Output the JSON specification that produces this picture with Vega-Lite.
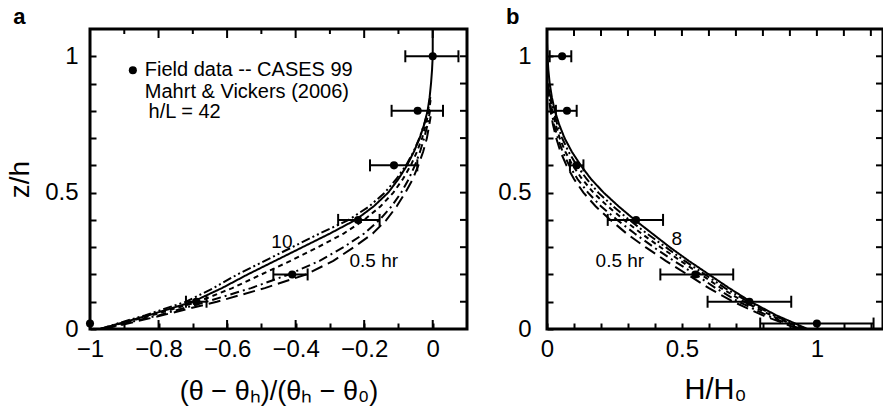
{
  "$schema": "https://vega.github.io/schema/vega-lite/v6.json",
  "background": "white",
  "padding": {"left": 5, "top": 4, "right": 0, "bottom": 0},
  "spacing": 80,
  "bounds": "flush",
  "datasets": {
    "curvesA": [
      {"s":"s1","z":0,"v":-0.96},{"s":"s1","z":0.02,"v":-0.89},{"s":"s1","z":0.05,"v":-0.79},{"s":"s1","z":0.1,"v":-0.63},{"s":"s1","z":0.15,"v":-0.49},{"s":"s1","z":0.2,"v":-0.37},{"s":"s1","z":0.25,"v":-0.29},{"s":"s1","z":0.3,"v":-0.23},{"s":"s1","z":0.35,"v":-0.175},{"s":"s1","z":0.4,"v":-0.135},{"s":"s1","z":0.45,"v":-0.105},{"s":"s1","z":0.5,"v":-0.08},{"s":"s1","z":0.55,"v":-0.058},{"s":"s1","z":0.6,"v":-0.042},{"s":"s1","z":0.65,"v":-0.028},{"s":"s1","z":0.7,"v":-0.017},{"s":"s1","z":0.75,"v":-0.01},{"s":"s1","z":0.78,"v":-0.006},
      {"s":"s2","z":0,"v":-0.965},{"s":"s2","z":0.02,"v":-0.9},{"s":"s2","z":0.05,"v":-0.8},{"s":"s2","z":0.1,"v":-0.66},{"s":"s2","z":0.15,"v":-0.53},{"s":"s2","z":0.2,"v":-0.42},{"s":"s2","z":0.25,"v":-0.33},{"s":"s2","z":0.3,"v":-0.26},{"s":"s2","z":0.35,"v":-0.2},{"s":"s2","z":0.4,"v":-0.155},{"s":"s2","z":0.45,"v":-0.12},{"s":"s2","z":0.5,"v":-0.092},{"s":"s2","z":0.55,"v":-0.07},{"s":"s2","z":0.6,"v":-0.052},{"s":"s2","z":0.65,"v":-0.037},{"s":"s2","z":0.7,"v":-0.025},{"s":"s2","z":0.75,"v":-0.015},{"s":"s2","z":0.8,"v":-0.008},
      {"s":"s3","z":0,"v":-0.97},{"s":"s3","z":0.02,"v":-0.91},{"s":"s3","z":0.05,"v":-0.82},{"s":"s3","z":0.1,"v":-0.685},{"s":"s3","z":0.15,"v":-0.585},{"s":"s3","z":0.2,"v":-0.5},{"s":"s3","z":0.25,"v":-0.415},{"s":"s3","z":0.3,"v":-0.335},{"s":"s3","z":0.35,"v":-0.26},{"s":"s3","z":0.4,"v":-0.2},{"s":"s3","z":0.45,"v":-0.152},{"s":"s3","z":0.5,"v":-0.115},{"s":"s3","z":0.55,"v":-0.087},{"s":"s3","z":0.6,"v":-0.064},{"s":"s3","z":0.65,"v":-0.046},{"s":"s3","z":0.7,"v":-0.031},{"s":"s3","z":0.75,"v":-0.02},{"s":"s3","z":0.8,"v":-0.011},{"s":"s3","z":0.85,"v":-0.005},
      {"s":"s4","z":0,"v":-0.97},{"s":"s4","z":0.02,"v":-0.915},{"s":"s4","z":0.05,"v":-0.83},{"s":"s4","z":0.1,"v":-0.7},{"s":"s4","z":0.15,"v":-0.615},{"s":"s4","z":0.2,"v":-0.54},{"s":"s4","z":0.25,"v":-0.46},{"s":"s4","z":0.3,"v":-0.38},{"s":"s4","z":0.35,"v":-0.3},{"s":"s4","z":0.4,"v":-0.225},{"s":"s4","z":0.45,"v":-0.172},{"s":"s4","z":0.5,"v":-0.13},{"s":"s4","z":0.55,"v":-0.1},{"s":"s4","z":0.6,"v":-0.075},{"s":"s4","z":0.65,"v":-0.055},{"s":"s4","z":0.7,"v":-0.038},{"s":"s4","z":0.75,"v":-0.025},{"s":"s4","z":0.8,"v":-0.015},{"s":"s4","z":0.85,"v":-0.009},{"s":"s4","z":0.9,"v":-0.005},{"s":"s4","z":0.95,"v":-0.002},{"s":"s4","z":1.0,"v":0},{"s":"s4","z":1.1,"v":0},
      {"s":"s5","z":0,"v":-0.97},{"s":"s5","z":0.02,"v":-0.92},{"s":"s5","z":0.05,"v":-0.84},{"s":"s5","z":0.1,"v":-0.72},{"s":"s5","z":0.15,"v":-0.64},{"s":"s5","z":0.2,"v":-0.57},{"s":"s5","z":0.25,"v":-0.49},{"s":"s5","z":0.3,"v":-0.41},{"s":"s5","z":0.35,"v":-0.33},{"s":"s5","z":0.4,"v":-0.245},{"s":"s5","z":0.45,"v":-0.185},{"s":"s5","z":0.5,"v":-0.14},{"s":"s5","z":0.55,"v":-0.106},{"s":"s5","z":0.6,"v":-0.078},{"s":"s5","z":0.65,"v":-0.056},{"s":"s5","z":0.7,"v":-0.039},{"s":"s5","z":0.75,"v":-0.025},{"s":"s5","z":0.8,"v":-0.014},{"s":"s5","z":0.85,"v":-0.007}
    ],
    "curvesB": [
      {"s":"s1","z":0,"v":0.93},{"s":"s1","z":0.02,"v":0.88},{"s":"s1","z":0.05,"v":0.8},{"s":"s1","z":0.1,"v":0.69},{"s":"s1","z":0.15,"v":0.6},{"s":"s1","z":0.2,"v":0.52},{"s":"s1","z":0.25,"v":0.44},{"s":"s1","z":0.3,"v":0.365},{"s":"s1","z":0.35,"v":0.295},{"s":"s1","z":0.4,"v":0.235},{"s":"s1","z":0.45,"v":0.18},{"s":"s1","z":0.5,"v":0.135},{"s":"s1","z":0.55,"v":0.1},{"s":"s1","z":0.6,"v":0.072},{"s":"s1","z":0.65,"v":0.05},{"s":"s1","z":0.7,"v":0.034},{"s":"s1","z":0.75,"v":0.022},{"s":"s1","z":0.8,"v":0.013},{"s":"s1","z":0.85,"v":0.007},{"s":"s1","z":0.88,"v":0.004},
      {"s":"s2","z":0,"v":0.94},{"s":"s2","z":0.02,"v":0.89},{"s":"s2","z":0.05,"v":0.815},{"s":"s2","z":0.1,"v":0.71},{"s":"s2","z":0.15,"v":0.625},{"s":"s2","z":0.2,"v":0.55},{"s":"s2","z":0.25,"v":0.47},{"s":"s2","z":0.3,"v":0.395},{"s":"s2","z":0.35,"v":0.325},{"s":"s2","z":0.4,"v":0.26},{"s":"s2","z":0.45,"v":0.2},{"s":"s2","z":0.5,"v":0.152},{"s":"s2","z":0.55,"v":0.113},{"s":"s2","z":0.6,"v":0.082},{"s":"s2","z":0.65,"v":0.058},{"s":"s2","z":0.7,"v":0.04},{"s":"s2","z":0.75,"v":0.026},{"s":"s2","z":0.8,"v":0.016},{"s":"s2","z":0.85,"v":0.009},{"s":"s2","z":0.9,"v":0.004},
      {"s":"s3","z":0,"v":0.95},{"s":"s3","z":0.02,"v":0.9},{"s":"s3","z":0.05,"v":0.83},{"s":"s3","z":0.1,"v":0.73},{"s":"s3","z":0.15,"v":0.645},{"s":"s3","z":0.2,"v":0.57},{"s":"s3","z":0.25,"v":0.495},{"s":"s3","z":0.3,"v":0.42},{"s":"s3","z":0.35,"v":0.35},{"s":"s3","z":0.4,"v":0.285},{"s":"s3","z":0.45,"v":0.225},{"s":"s3","z":0.5,"v":0.172},{"s":"s3","z":0.55,"v":0.13},{"s":"s3","z":0.6,"v":0.095},{"s":"s3","z":0.65,"v":0.068},{"s":"s3","z":0.7,"v":0.047},{"s":"s3","z":0.75,"v":0.032},{"s":"s3","z":0.8,"v":0.02},{"s":"s3","z":0.85,"v":0.011},{"s":"s3","z":0.9,"v":0.005},
      {"s":"s4","z":0,"v":0.965},{"s":"s4","z":0.02,"v":0.92},{"s":"s4","z":0.05,"v":0.85},{"s":"s4","z":0.1,"v":0.755},{"s":"s4","z":0.15,"v":0.675},{"s":"s4","z":0.2,"v":0.6},{"s":"s4","z":0.25,"v":0.525},{"s":"s4","z":0.3,"v":0.455},{"s":"s4","z":0.35,"v":0.39},{"s":"s4","z":0.4,"v":0.325},{"s":"s4","z":0.45,"v":0.265},{"s":"s4","z":0.5,"v":0.21},{"s":"s4","z":0.55,"v":0.163},{"s":"s4","z":0.6,"v":0.125},{"s":"s4","z":0.65,"v":0.092},{"s":"s4","z":0.7,"v":0.065},{"s":"s4","z":0.75,"v":0.045},{"s":"s4","z":0.8,"v":0.029},{"s":"s4","z":0.85,"v":0.018},{"s":"s4","z":0.9,"v":0.01},{"s":"s4","z":0.95,"v":0.005},{"s":"s4","z":1.0,"v":0.002},{"s":"s4","z":1.05,"v":0},{"s":"s4","z":1.1,"v":0},
      {"s":"s5","z":0,"v":0.96},{"s":"s5","z":0.02,"v":0.91},{"s":"s5","z":0.05,"v":0.84},{"s":"s5","z":0.1,"v":0.745},{"s":"s5","z":0.15,"v":0.66},{"s":"s5","z":0.2,"v":0.585},{"s":"s5","z":0.25,"v":0.51},{"s":"s5","z":0.3,"v":0.44},{"s":"s5","z":0.35,"v":0.37},{"s":"s5","z":0.4,"v":0.305},{"s":"s5","z":0.45,"v":0.245},{"s":"s5","z":0.5,"v":0.19},{"s":"s5","z":0.55,"v":0.147},{"s":"s5","z":0.6,"v":0.11},{"s":"s5","z":0.65,"v":0.08},{"s":"s5","z":0.7,"v":0.056},{"s":"s5","z":0.75,"v":0.038},{"s":"s5","z":0.8,"v":0.024},{"s":"s5","z":0.85,"v":0.014},{"s":"s5","z":0.9,"v":0.007}
    ],
    "pointsA": [
      {"z":1.0,"v":0},{"z":0.8,"v":-0.044},{"z":0.6,"v":-0.113},{"z":0.4,"v":-0.218},{"z":0.2,"v":-0.41},{"z":0.1,"v":-0.69},{"z":0.02,"v":-1.0}
    ],
    "errA": [
      {"z":1.0,"lo":-0.08,"hi":0.075},{"z":0.8,"lo":-0.12,"hi":0.03},{"z":0.6,"lo":-0.183,"hi":-0.045},{"z":0.4,"lo":-0.276,"hi":-0.155},{"z":0.2,"lo":-0.465,"hi":-0.365},{"z":0.1,"lo":-0.72,"hi":-0.66}
    ],
    "pointsB": [
      {"z":1.0,"v":0.056},{"z":0.8,"v":0.074},{"z":0.6,"v":0.11},{"z":0.4,"v":0.33},{"z":0.2,"v":0.55},{"z":0.1,"v":0.75},{"z":0.02,"v":1.0}
    ],
    "errB": [
      {"z":1.0,"lo":0.01,"hi":0.09},{"z":0.8,"lo":0.033,"hi":0.11},{"z":0.6,"lo":0.085,"hi":0.135},{"z":0.4,"lo":0.225,"hi":0.43},{"z":0.2,"lo":0.42,"hi":0.69},{"z":0.1,"lo":0.595,"hi":0.905},{"z":0.02,"lo":0.79,"hi":1.21}
    ],
    "annA": [{"v":-0.44,"z":0.318,"t":"10"},{"v":-0.172,"z":0.248,"t":"0.5 hr"}],
    "annB": [{"v":0.481,"z":0.33,"t":"8"},{"v":0.27,"z":0.248,"t":"0.5 hr"}],
    "legendA": [{"v":-0.84,"z":0.949,"t":"Field data -- CASES 99"},{"v":-0.84,"z":0.869,"t":"Mahrt & Vickers (2006)"},{"v":-0.829,"z":0.796,"t":"h/L = 42"}],
    "legendDotA": [{"v":-0.875,"z":0.949}],
    "tagA": [{"v":-1.224,"z":1.118,"t":"a"}],
    "tagB": [{"v":-0.152,"z":1.118,"t":"b"}],
    "tickAxMajor": [{"v":-0.8},{"v":-0.6},{"v":-0.4},{"v":-0.2},{"v":0}],
    "tickAxMinor": [{"v":-0.9},{"v":-0.7},{"v":-0.5},{"v":-0.3},{"v":-0.1}],
    "tickBx": [{"v":0.1},{"v":0.2},{"v":0.3},{"v":0.4},{"v":0.5},{"v":0.6},{"v":0.7},{"v":0.8},{"v":0.9},{"v":1.0},{"v":1.1},{"v":1.2}],
    "tickY": [{"z":0.1},{"z":0.2},{"z":0.3},{"z":0.4},{"z":0.5},{"z":0.6},{"z":0.7},{"z":0.8},{"z":0.9},{"z":1.0}]
  },
  "hconcat": [
    {
      "width": 377,
      "height": 300,
      "resolve": {"axis": {"x": "independent", "y": "independent"}},
      "layer": [
        {
          "data": {"name": "curvesA"},
          "mark": {"type": "line", "color": "black", "strokeWidth": 2, "clip": true},
          "encoding": {
            "x": {"field": "v", "type": "quantitative", "scale": {"domain": [-1, 0.1], "nice": false, "zero": false},
                  "axis": {"orient": "bottom", "values": [-1, -0.9, -0.8, -0.7, -0.6, -0.5, -0.4, -0.3, -0.2, -0.1, 0], "labelExpr": "abs(round(datum.value*10)) % 2 == 0 ? format(datum.value, '.1~f') : ''", "labelFlush": false, "tickSize": -6, "domain": false, "labelPadding": 14, "title": "(θ − θₕ)/(θₕ − θ₀)", "titleFontSize": 27, "titlePadding": 17}},
            "y": {"field": "z", "type": "quantitative", "scale": {"domain": [0, 1.1], "nice": false, "zero": false},
                  "axis": {"orient": "left", "values": [0, 0.1, 0.2, 0.3, 0.4, 0.5, 0.6, 0.7, 0.8, 0.9, 1], "labelExpr": "round(datum.value*10) % 5 == 0 ? format(datum.value, '.1~f') : ''", "labelFlush": false, "tickSize": -6, "domain": false, "labelPadding": 18, "title": "z/h", "titleFontSize": 28, "titlePadding": 10}},
            "strokeDash": {"field": "s", "type": "nominal", "legend": null,
                  "scale": {"domain": ["s1", "s2", "s3", "s4", "s5"], "range": [[12, 6], [9, 4, 2, 4], [5, 4], [1, 0], [9, 3, 2, 3, 2, 3]]}},
            "order": {"field": "z", "type": "quantitative"}
          }
        },
        {
          "data": {"name": "tickAxMajor"},
          "mark": {"type": "tick", "orient": "vertical", "size": 18, "thickness": 2, "color": "black", "opacity": 1, "clip": true},
          "encoding": {
            "x": {"field": "v", "type": "quantitative", "scale": {"domain": [-1, 0.1], "nice": false, "zero": false}, "axis": null},
            "y": {"datum": 0, "type": "quantitative", "scale": {"domain": [0, 1.1], "nice": false, "zero": false}, "axis": null}
          }
        },
        {
          "data": {"name": "tickAxMajor"},
          "mark": {"type": "tick", "orient": "vertical", "size": 18, "thickness": 2, "color": "black", "opacity": 1, "clip": true},
          "encoding": {
            "x": {"field": "v", "type": "quantitative", "scale": {"domain": [-1, 0.1], "nice": false, "zero": false}, "axis": null},
            "y": {"datum": 1.1, "type": "quantitative", "scale": {"domain": [0, 1.1], "nice": false, "zero": false}, "axis": null}
          }
        },
        {
          "data": {"name": "tickAxMinor"},
          "mark": {"type": "tick", "orient": "vertical", "size": 10, "thickness": 2, "color": "black", "opacity": 1, "clip": true},
          "encoding": {
            "x": {"field": "v", "type": "quantitative", "scale": {"domain": [-1, 0.1], "nice": false, "zero": false}, "axis": null},
            "y": {"datum": 1.1, "type": "quantitative", "scale": {"domain": [0, 1.1], "nice": false, "zero": false}, "axis": null}
          }
        },
        {
          "data": {"name": "tickY"},
          "mark": {"type": "tick", "orient": "horizontal", "size": 14, "thickness": 2, "color": "black", "opacity": 1, "clip": true},
          "encoding": {
            "x": {"datum": 0.1, "type": "quantitative", "scale": {"domain": [-1, 0.1], "nice": false, "zero": false}, "axis": null},
            "y": {"field": "z", "type": "quantitative", "scale": {"domain": [0, 1.1], "nice": false, "zero": false}, "axis": null}
          }
        },
        {
          "data": {"name": "pointsA"},
          "mark": {"type": "circle", "size": 65, "color": "black", "opacity": 1},
          "encoding": {
            "x": {"field": "v", "type": "quantitative", "scale": {"domain": [-1, 0.1], "nice": false, "zero": false}, "axis": null},
            "y": {"field": "z", "type": "quantitative", "scale": {"domain": [0, 1.1], "nice": false, "zero": false}, "axis": null}
          }
        },
        {
          "data": {"name": "errA"},
          "mark": {"type": "rule", "color": "black", "strokeWidth": 2},
          "encoding": {
            "x": {"field": "lo", "type": "quantitative", "scale": {"domain": [-1, 0.1], "nice": false, "zero": false}, "axis": null},
            "x2": {"field": "hi"},
            "y": {"field": "z", "type": "quantitative", "scale": {"domain": [0, 1.1], "nice": false, "zero": false}, "axis": null}
          }
        },
        {
          "data": {"name": "errA"},
          "transform": [{"fold": ["lo", "hi"], "as": ["k", "v"]}],
          "mark": {"type": "tick", "orient": "vertical", "size": 12, "thickness": 2, "color": "black", "opacity": 1},
          "encoding": {
            "x": {"field": "v", "type": "quantitative", "scale": {"domain": [-1, 0.1], "nice": false, "zero": false}, "axis": null},
            "y": {"field": "z", "type": "quantitative", "scale": {"domain": [0, 1.1], "nice": false, "zero": false}, "axis": null}
          }
        },
        {
          "data": {"name": "annA"},
          "mark": {"type": "text", "align": "center", "baseline": "middle", "fontSize": 19, "font": "Liberation Sans", "color": "black"},
          "encoding": {
            "x": {"field": "v", "type": "quantitative", "scale": {"domain": [-1, 0.1], "nice": false, "zero": false}, "axis": null},
            "y": {"field": "z", "type": "quantitative", "scale": {"domain": [0, 1.1], "nice": false, "zero": false}, "axis": null},
            "text": {"field": "t"}
          }
        },
        {
          "data": {"name": "legendA"},
          "mark": {"type": "text", "align": "left", "baseline": "middle", "fontSize": 20, "font": "Liberation Sans", "color": "black"},
          "encoding": {
            "x": {"field": "v", "type": "quantitative", "scale": {"domain": [-1, 0.1], "nice": false, "zero": false}, "axis": null},
            "y": {"field": "z", "type": "quantitative", "scale": {"domain": [0, 1.1], "nice": false, "zero": false}, "axis": null},
            "text": {"field": "t"}
          }
        },
        {
          "data": {"name": "legendDotA"},
          "mark": {"type": "circle", "size": 65, "color": "black", "opacity": 1},
          "encoding": {
            "x": {"field": "v", "type": "quantitative", "scale": {"domain": [-1, 0.1], "nice": false, "zero": false}, "axis": null},
            "y": {"field": "z", "type": "quantitative", "scale": {"domain": [0, 1.1], "nice": false, "zero": false}, "axis": null}
          }
        },
        {
          "data": {"name": "tagA"},
          "mark": {"type": "text", "align": "left", "baseline": "alphabetic", "fontSize": 22, "fontWeight": "bold", "font": "Liberation Sans", "color": "black"},
          "encoding": {
            "x": {"field": "v", "type": "quantitative", "scale": {"domain": [-1, 0.1], "nice": false, "zero": false}, "axis": null},
            "y": {"field": "z", "type": "quantitative", "scale": {"domain": [0, 1.1], "nice": false, "zero": false}, "axis": null},
            "text": {"field": "t"}
          }
        }
      ]
    },
    {
      "width": 336,
      "height": 300,
      "resolve": {"axis": {"x": "independent", "y": "independent"}},
      "layer": [
        {
          "data": {"name": "curvesB"},
          "mark": {"type": "line", "color": "black", "strokeWidth": 2, "clip": true},
          "encoding": {
            "x": {"field": "v", "type": "quantitative", "scale": {"domain": [0, 1.245], "nice": false, "zero": false},
                  "axis": {"orient": "bottom", "values": [0, 0.1, 0.2, 0.3, 0.4, 0.5, 0.6, 0.7, 0.8, 0.9, 1, 1.1, 1.2], "labelExpr": "round(datum.value*10) % 5 == 0 ? format(datum.value, '.1~f') : ''", "labelFlush": false, "tickSize": -6, "domain": false, "labelPadding": 14, "title": "H/H₀", "titleFontSize": 29, "titlePadding": 14}},
            "y": {"field": "z", "type": "quantitative", "scale": {"domain": [0, 1.1], "nice": false, "zero": false},
                  "axis": {"orient": "left", "values": [0, 0.1, 0.2, 0.3, 0.4, 0.5, 0.6, 0.7, 0.8, 0.9, 1], "labelExpr": "round(datum.value*10) % 5 == 0 ? format(datum.value, '.1~f') : ''", "labelFlush": false, "tickSize": -6, "domain": false, "labelPadding": 22, "title": null}},
            "strokeDash": {"field": "s", "type": "nominal", "legend": null,
                  "scale": {"domain": ["s1", "s2", "s3", "s4", "s5"], "range": [[12, 6], [9, 4, 2, 4], [5, 4], [1, 0], [9, 3, 2, 3, 2, 3]]}},
            "order": {"field": "z", "type": "quantitative"}
          }
        },
        {
          "data": {"name": "tickBx"},
          "mark": {"type": "tick", "orient": "vertical", "size": 14, "thickness": 2, "color": "black", "opacity": 1, "clip": true},
          "encoding": {
            "x": {"field": "v", "type": "quantitative", "scale": {"domain": [0, 1.245], "nice": false, "zero": false}, "axis": null},
            "y": {"datum": 1.1, "type": "quantitative", "scale": {"domain": [0, 1.1], "nice": false, "zero": false}, "axis": null}
          }
        },
        {
          "data": {"name": "tickY"},
          "mark": {"type": "tick", "orient": "horizontal", "size": 14, "thickness": 2, "color": "black", "opacity": 1, "clip": true},
          "encoding": {
            "x": {"datum": 1.245, "type": "quantitative", "scale": {"domain": [0, 1.245], "nice": false, "zero": false}, "axis": null},
            "y": {"field": "z", "type": "quantitative", "scale": {"domain": [0, 1.1], "nice": false, "zero": false}, "axis": null}
          }
        },
        {
          "data": {"name": "pointsB"},
          "mark": {"type": "circle", "size": 65, "color": "black", "opacity": 1},
          "encoding": {
            "x": {"field": "v", "type": "quantitative", "scale": {"domain": [0, 1.245], "nice": false, "zero": false}, "axis": null},
            "y": {"field": "z", "type": "quantitative", "scale": {"domain": [0, 1.1], "nice": false, "zero": false}, "axis": null}
          }
        },
        {
          "data": {"name": "errB"},
          "mark": {"type": "rule", "color": "black", "strokeWidth": 2},
          "encoding": {
            "x": {"field": "lo", "type": "quantitative", "scale": {"domain": [0, 1.245], "nice": false, "zero": false}, "axis": null},
            "x2": {"field": "hi"},
            "y": {"field": "z", "type": "quantitative", "scale": {"domain": [0, 1.1], "nice": false, "zero": false}, "axis": null}
          }
        },
        {
          "data": {"name": "errB"},
          "transform": [{"fold": ["lo", "hi"], "as": ["k", "v"]}],
          "mark": {"type": "tick", "orient": "vertical", "size": 12, "thickness": 2, "color": "black", "opacity": 1},
          "encoding": {
            "x": {"field": "v", "type": "quantitative", "scale": {"domain": [0, 1.245], "nice": false, "zero": false}, "axis": null},
            "y": {"field": "z", "type": "quantitative", "scale": {"domain": [0, 1.1], "nice": false, "zero": false}, "axis": null}
          }
        },
        {
          "data": {"name": "annB"},
          "mark": {"type": "text", "align": "center", "baseline": "middle", "fontSize": 19, "font": "Liberation Sans", "color": "black"},
          "encoding": {
            "x": {"field": "v", "type": "quantitative", "scale": {"domain": [0, 1.245], "nice": false, "zero": false}, "axis": null},
            "y": {"field": "z", "type": "quantitative", "scale": {"domain": [0, 1.1], "nice": false, "zero": false}, "axis": null},
            "text": {"field": "t"}
          }
        },
        {
          "data": {"name": "tagB"},
          "mark": {"type": "text", "align": "left", "baseline": "alphabetic", "fontSize": 22, "fontWeight": "bold", "font": "Liberation Sans", "color": "black"},
          "encoding": {
            "x": {"field": "v", "type": "quantitative", "scale": {"domain": [0, 1.245], "nice": false, "zero": false}, "axis": null},
            "y": {"field": "z", "type": "quantitative", "scale": {"domain": [0, 1.1], "nice": false, "zero": false}, "axis": null},
            "text": {"field": "t"}
          }
        }
      ]
    }
  ],
  "config": {
    "font": "Liberation Sans",
    "view": {"stroke": "black", "strokeWidth": 3},
    "axis": {"domainColor": "black", "domainWidth": 2.5, "tickColor": "black", "tickWidth": 2, "labelColor": "black", "labelFont": "Liberation Sans", "labelFontSize": 24, "titleFont": "Liberation Sans", "titleFontSize": 26, "titleFontWeight": "normal", "titleColor": "black", "grid": false, "labelOverlap": false, "zindex": 1}
  }
}
